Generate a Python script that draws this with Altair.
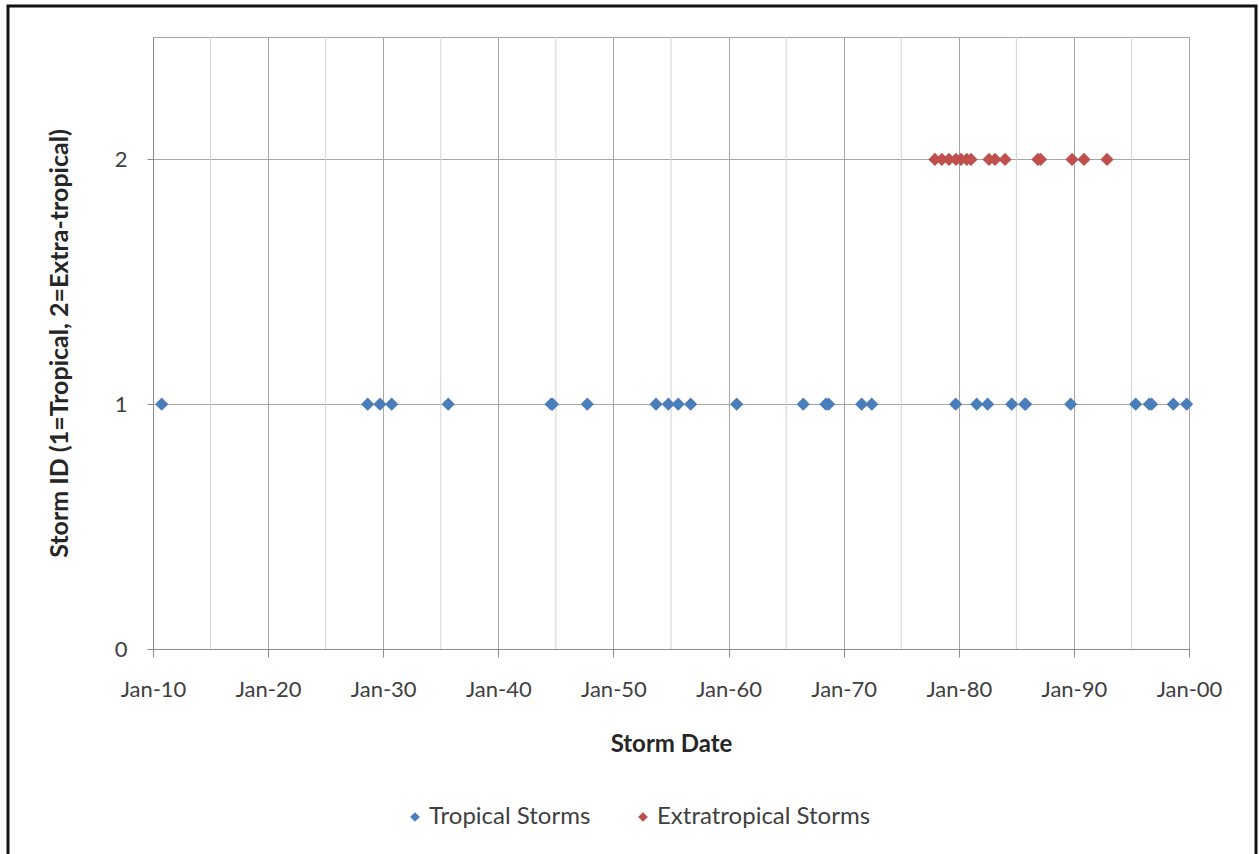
import altair as alt
import pandas as pd

tropical_dates = [
    "1910-10-05", "1928-08-25", "1929-09-20", "1930-09-27", "1935-08-25",
    "1944-08-01", "1944-09-15", "1947-09-24", "1953-09-12", "1954-10-08",
    "1955-08-18", "1956-09-16", "1960-09-16", "1966-06-28", "1968-06-15",
    "1968-09-10", "1971-07-26", "1972-06-10", "1979-09-24", "1981-07-23",
    "1982-07-05", "1984-08-07", "1985-09-27", "1985-10-23", "1989-09-21",
    "1995-05-15", "1996-07-20", "1996-10-01", "1998-08-22", "1999-10-18",
]
extratropical_dates = [
    "1977-12-05", "1978-07-15", "1979-02-25", "1979-10-05", "1980-03-10",
    "1980-09-12", "1981-01-22", "1982-08-18", "1983-02-25", "1984-01-08",
    "1986-11-15", "1987-02-10", "1989-11-03", "1990-11-17", "1992-11-17",
]
series_names = ["Tropical Storms", "Extratropical Storms"]
series_ids = [1, 2]
series_colors = ["#4A7EBB", "#C0504D"]
major_years = list(range(1910, 2001, 10))
minor_years = list(range(1915, 2000, 10))
y_ticks = [0, 1, 2]

rows = []
for d in tropical_dates:
    rows.append({"date": d + "T00:00:00", "id": series_ids[0], "series": series_names[0]})
for d in extratropical_dates:
    rows.append({"date": d + "T00:00:00", "id": series_ids[1], "series": series_names[1]})
df = pd.DataFrame(rows)

minor_df = pd.DataFrame({"date": [f"{y}-01-01T00:00:00" for y in minor_years]})

FONT = "Lato"
xscale = alt.Scale(domain=[alt.DateTime(year=1910, month=1, date=1),
                           alt.DateTime(year=2000, month=1, date=1)])

minor = alt.Chart(minor_df).mark_rule(color="#D3D3D3", strokeWidth=1).encode(
    x=alt.X("date:T", scale=xscale),
)

points = alt.Chart(df).mark_point(shape="diamond", filled=True, size=175, opacity=1).encode(
    x=alt.X("date:T", scale=xscale,
            axis=alt.Axis(values=[alt.DateTime(year=y, month=1, date=1) for y in major_years],
                          format="%b-%y", formatType="time", title="Storm Date",
                          grid=True, gridColor="#A6A6A6", tickColor="#8C8C8C",
                          domainColor="#8C8C8C", tickSize=8, labelPadding=22,
                          labelFlush=False, labelOverlap=False,
                          titlePadding=32, titleFontSize=24)),
    y=alt.Y("id:Q", scale=alt.Scale(domain=[0, 2.5], nice=False),
            axis=alt.Axis(values=y_ticks, title="Storm ID (1=Tropical, 2=Extra-tropical)",
                          grid=True, gridColor="#A6A6A6", tickColor="#8C8C8C",
                          domainColor="#8C8C8C", tickSize=6, labelPadding=20,
                          titlePadding=42, titleFontSize=25)),
    color=alt.Color("series:N", scale=alt.Scale(domain=series_names, range=series_colors),
                    legend=alt.Legend(title=None, orient="none", direction="horizontal",
                                      legendX=250, legendY=768, symbolType="diamond",
                                      symbolSize=95, labelFontSize=24, columnPadding=40,
                                      labelOffset=2, labelLimit=400,
                                      labelFont=FONT, labelColor="#404040")),
)

border = alt.Chart(alt.Data(values=[{"a": 1}])).mark_rect(
    fill=None, stroke="#111111", strokeWidth=3, clip=False
).encode(
    x=alt.value(-145), x2=alt.value(1103), y=alt.value(-31), y2=alt.value(830)
)

chart = alt.layer(minor, points, border).properties(
    width=1036, height=612,
    autosize=alt.AutoSizeParams(type="none"),
    padding={"left": 153, "top": 37, "right": 70, "bottom": 205},
    background="white",
).configure_view(
    stroke="#A6A6A6", strokeWidth=1
).configure_axis(
    labelFont=FONT, titleFont=FONT, labelFontSize=22,
    labelColor="#404040", titleColor="#262626", titleFontWeight="bold",
)

chart.save("out.html", embed_options={"renderer": "svg", "actions": False})
